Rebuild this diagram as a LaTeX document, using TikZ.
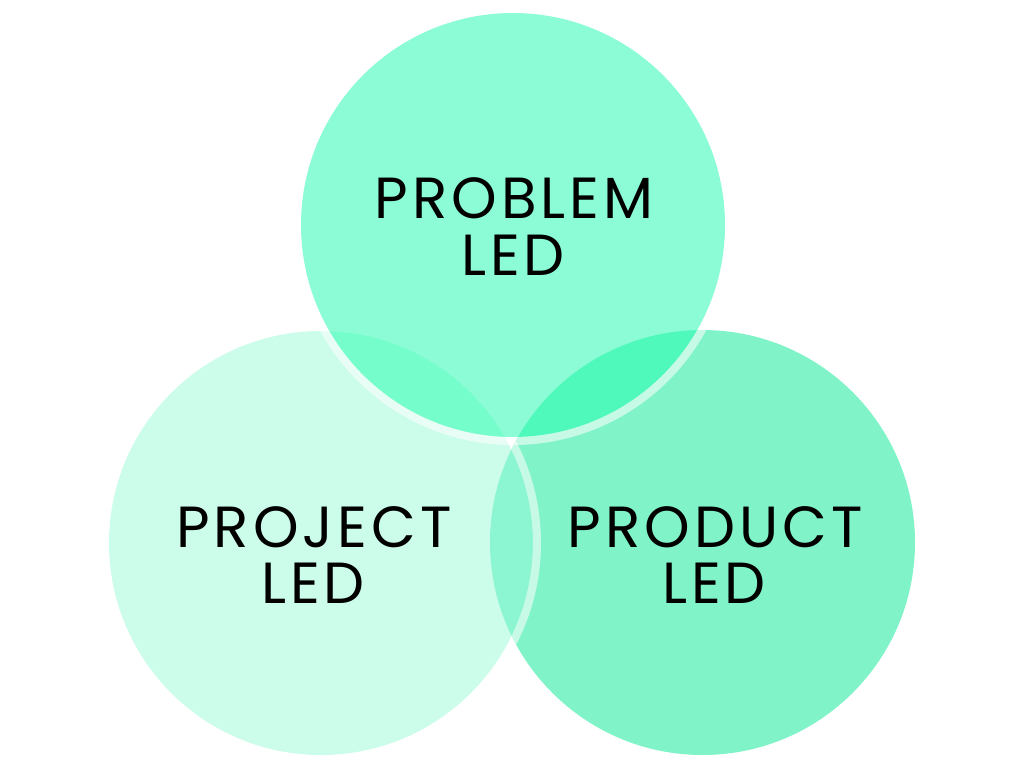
\documentclass[tikz,border=0pt]{standalone}
\usepackage{fontspec}
\setmainfont{Poppins}[LetterSpace=7]
\definecolor{topc}{HTML}{8BFCD5}
\definecolor{leftc}{HTML}{CCFCEA}
\definecolor{rightc}{HTML}{81F3C9}
\definecolor{tlc}{HTML}{76FDCC}
\definecolor{trc}{HTML}{4FF9BB}
\definecolor{lrc}{HTML}{8CF5D1}
\definecolor{tlrc}{HTML}{55F8BE}
\tikzset{
  lbl/.style={anchor=base, inner sep=0pt, text=black, font=\fontsize{58}{58}\selectfont},
  ring/.style={draw=white, draw opacity=0.55, line width=8pt}
}
\begin{document}
\begin{tikzpicture}[x=1pt,y=-1pt]
\useasboundingbox (0,0) rectangle (1024,768);
\coordinate (T) at (513,225);
\coordinate (L) at (321,543);
\coordinate (R) at (702.5,542.5);
\def\rT{212pt}\def\rL{212pt}\def\rR{212.5pt}
% right and left circles
\fill[rightc] (R) circle[radius=\rR];
\fill[leftc] (L) circle[radius=\rL];
\begin{scope}
  \clip (R) circle[radius=\rR];
  \fill[lrc] (L) circle[radius=\rL];
  \draw[ring] (L) circle[radius=216pt];
\end{scope}
% top circle
\fill[topc] (T) circle[radius=\rT];
\begin{scope}
  \clip (T) circle[radius=\rT];
  \fill[tlc] (L) circle[radius=\rL];
  \fill[trc] (R) circle[radius=\rR];
  \clip (L) circle[radius=\rL];
  \fill[tlrc] (R) circle[radius=\rR];
\end{scope}
\begin{scope}
  \clip (L) circle[radius=\rL] (R) circle[radius=\rR];
  \draw[ring] (T) circle[radius=216pt];
\end{scope}
% labels
\node[lbl] (t1) at (514,218) {PROBLEM};
\node[lbl] (t2) at (513,275) {LED};
\node[lbl] (l1) at (314,547) {PROJECT};
\node[lbl] (l2) at (313,603) {LED};
\node[lbl] (r1) at (715,547) {PRODUCT};
\node[lbl] (r2) at (714,603) {LED};
\end{tikzpicture}
\end{document}
